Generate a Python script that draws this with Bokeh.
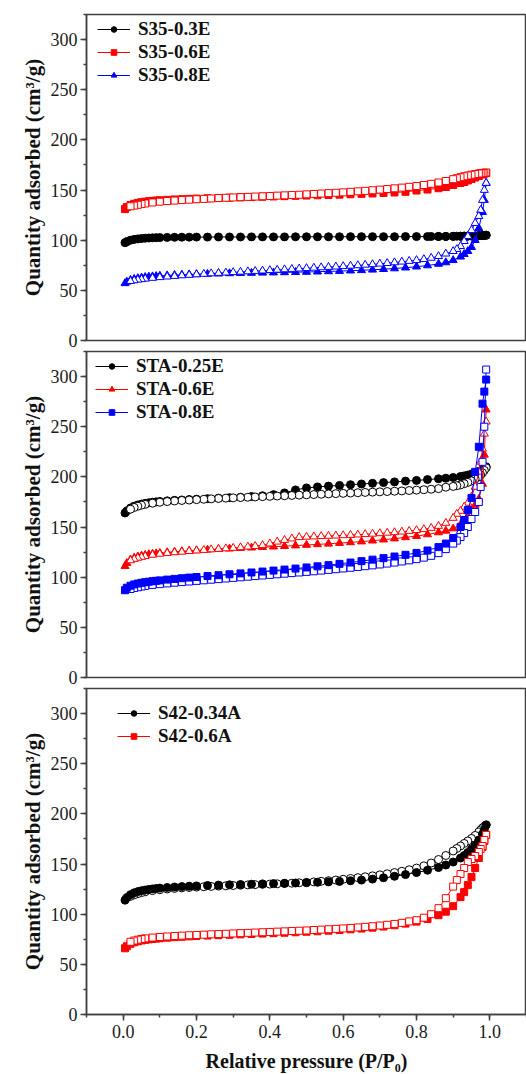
from bokeh.plotting import figure
from bokeh.models import (Range1d, SingleIntervalTicker, Legend, LegendItem,
                          ColumnDataSource, PrintfTickFormatter)
from bokeh.layouts import column
from bokeh.embed import file_html
from bokeh.resources import INLINE

# ---------------- data ----------------
ADS_P = [0.005, 0.01, 0.02, 0.03, 0.04, 0.05, 0.06, 0.07, 0.08, 0.09,
         0.10, 0.12, 0.14, 0.16, 0.18, 0.20, 0.23, 0.26, 0.29, 0.32,
         0.35, 0.38, 0.41, 0.44, 0.47, 0.50, 0.53, 0.56, 0.59, 0.62,
         0.65, 0.68, 0.71, 0.74, 0.77, 0.80, 0.83, 0.86, 0.88, 0.90,
         0.92, 0.93, 0.94, 0.95, 0.96, 0.97, 0.98, 0.985, 0.99]

DES_P = [0.99, 0.985, 0.98, 0.975, 0.97, 0.96, 0.95, 0.94, 0.93, 0.92,
         0.91, 0.90, 0.88, 0.86, 0.84, 0.82, 0.80, 0.78, 0.76, 0.74,
         0.72, 0.70, 0.68, 0.66, 0.64, 0.62, 0.60, 0.58, 0.56, 0.54,
         0.52, 0.50, 0.48, 0.46, 0.44, 0.42, 0.40, 0.38, 0.36, 0.34,
         0.32, 0.30, 0.28, 0.26, 0.24, 0.22, 0.20, 0.18, 0.16, 0.14,
         0.12, 0.10, 0.08, 0.06, 0.05, 0.04, 0.03, 0.02]

# panel 1
S35_03E_ADS = [97.5, 98.5, 100.0, 100.8, 101.3, 101.7, 102.0, 102.2, 102.4, 102.5,
               102.6, 102.8, 102.9, 103.0, 103.0, 103.1, 103.1, 103.2, 103.2, 103.2,
               103.3, 103.3, 103.3, 103.3, 103.4, 103.4, 103.4, 103.4, 103.4, 103.5,
               103.5, 103.5, 103.5, 103.5, 103.6, 103.6, 103.6, 103.7, 103.7, 103.8,
               103.9, 104.0, 104.0, 104.1, 104.2, 104.4, 104.6, 104.8, 105.0]
S35_03E_DES_P = [0.99, 0.98, 0.97, 0.96, 0.95, 0.94, 0.93, 0.92, 0.91, 0.90, 0.88, 0.86, 0.84]
S35_03E_DES = [105.0, 104.8, 104.6, 104.4, 104.3, 104.2, 104.1, 104.0, 104.0, 103.9, 103.8, 103.8, 103.7]

S35_06E_ADS = [131.0, 133.0, 135.0, 136.3, 137.2, 137.9, 138.4, 138.8, 139.2, 139.5,
               139.8, 140.2, 140.6, 140.9, 141.2, 141.5, 141.8, 142.1, 142.4, 142.7,
               143.0, 143.3, 143.6, 143.9, 144.2, 144.5, 144.8, 145.1, 145.4, 145.8,
               146.2, 146.6, 147.1, 147.6, 148.2, 149.5, 150.5, 151.8, 153.0, 155.0,
               157.0, 158.0, 159.5, 161.0, 162.5, 164.0, 165.5, 166.3, 167.0]
S35_06E_DES = [167.5, 167.2, 167.0, 166.8, 166.5, 166.0, 165.3, 164.5, 163.7, 162.8,
               161.8, 160.8, 159.0, 157.5, 156.2, 155.0, 154.0, 153.2, 152.4, 151.7,
               151.0, 150.4, 149.8, 149.2, 148.7, 148.2, 147.7, 147.3, 146.9, 146.5,
               146.1, 145.7, 145.3, 145.0, 144.7, 144.4, 144.1, 143.8, 143.5, 143.2,
               142.9, 142.6, 142.3, 142.0, 141.6, 141.2, 140.8, 140.4, 140.0, 139.5,
               139.0, 138.4, 137.6, 136.6, 136.0, 135.3, 134.5, 133.8]

S35_08E_ADS = [57.0, 58.5, 60.3, 61.3, 62.0, 62.6, 63.1, 63.5, 63.8, 64.1,
               64.4, 64.8, 65.2, 65.5, 65.8, 66.0, 66.3, 66.6, 66.9, 67.1,
               67.3, 67.5, 67.7, 67.9, 68.1, 68.3, 68.6, 68.9, 69.2, 69.6,
               70.0, 70.5, 71.1, 71.8, 72.6, 73.6, 74.8, 76.3, 77.8, 80.0,
               83.5, 86.0, 89.0, 93.0, 100.0, 112.0, 128.0, 140.0, 157.0]
S35_08E_DES = [157.0, 150.0, 140.0, 130.0, 124.0, 117.0, 110.0, 104.0, 99.0, 94.0,
               91.0, 89.0, 86.5, 84.0, 82.3, 81.0, 80.0, 79.2, 78.5, 77.8,
               77.1, 76.5, 75.9, 75.4, 74.9, 74.4, 74.0, 73.6, 73.2, 72.8,
               72.4, 72.0, 71.6, 71.2, 70.8, 70.4, 70.0, 69.6, 69.2, 68.8,
               68.4, 68.0, 67.6, 67.2, 66.8, 66.3, 65.8, 65.3, 64.8, 64.2,
               63.6, 63.0, 62.3, 61.5, 61.0, 60.5, 59.9, 59.2]

# panel 2
STA_025E_ADS = [164.0, 166.0, 169.0, 170.8, 172.0, 172.9, 173.6, 174.2, 174.7, 175.1,
                175.5, 176.1, 176.6, 177.0, 177.4, 177.8, 178.3, 178.8, 179.3, 179.8,
                180.4, 181.2, 182.3, 184.0, 187.0, 189.0, 190.0, 190.8, 191.5, 192.2,
                192.9, 193.6, 194.3, 195.0, 195.8, 196.5, 197.3, 198.1, 198.7, 199.4,
                200.4, 201.0, 201.8, 202.8, 204.0, 205.5, 207.3, 208.6, 210.0]
STA_025E_DES = [209.0, 206.5, 204.0, 202.0, 200.0, 198.0, 196.0, 194.5, 193.2, 192.0,
                191.2, 190.5, 189.7, 188.3, 187.7, 187.2, 186.8, 186.4, 186.0, 185.7,
                185.4, 185.1, 184.8, 184.5, 184.2, 183.9, 183.6, 183.3, 183.0, 182.7,
                182.4, 182.1, 181.8, 181.5, 181.2, 180.9, 180.6, 180.3, 180.0, 179.7,
                179.4, 179.1, 178.8, 178.5, 178.1, 177.7, 177.3, 176.9, 176.5, 176.0,
                175.4, 174.7, 173.8, 172.6, 171.8, 170.8, 169.5, 167.8]

STA_06E_ADS = [111.0, 114.0, 117.5, 119.3, 120.5, 121.4, 122.1, 122.7, 123.2, 123.6,
               124.0, 124.7, 125.3, 125.8, 126.3, 126.7, 127.3, 127.9, 128.4, 128.9,
               129.4, 129.9, 130.4, 130.9, 131.5, 132.1, 132.7, 133.3, 134.0, 134.7,
               135.5, 136.4, 137.4, 138.5, 139.7, 141.0, 142.6, 144.6, 146.2, 148.5,
               152.5, 156.0, 161.0, 166.0, 172.0, 178.0, 193.0, 222.0, 267.0]
STA_06E_DES = [255.0, 243.0, 228.0, 215.0, 205.0, 190.0, 180.0, 174.0, 170.0, 166.0,
               163.0, 159.0, 154.0, 151.0, 149.0, 147.8, 146.8, 146.0, 145.3, 144.7,
               144.2, 143.7, 143.2, 142.8, 142.4, 142.0, 141.7, 141.4, 141.1, 140.8,
               140.5, 140.2, 139.8, 138.5, 137.0, 135.3, 133.5, 131.8, 131.0, 130.3,
               129.7, 129.1, 128.6, 128.1, 127.6, 127.0, 126.5, 125.9, 125.3, 124.7,
               124.0, 123.2, 122.2, 120.9, 120.1, 119.2, 118.1, 116.7]

STA_08E_ADS = [87.0, 89.5, 91.5, 92.8, 93.7, 94.4, 95.0, 95.5, 96.0, 96.4,
               96.8, 97.6, 98.3, 99.0, 99.6, 100.2, 101.1, 102.0, 102.9, 103.8,
               104.7, 105.6, 106.6, 107.6, 108.6, 109.7, 110.8, 112.0, 113.3, 114.6,
               116.0, 117.5, 119.0, 120.6, 122.3, 124.2, 126.6, 130.0, 133.5, 139.0,
               150.0, 157.0, 167.0, 179.0, 205.0, 230.0, 273.0, 285.0, 297.0]
STA_08E_DES = [307.0, 250.0, 215.0, 190.0, 175.0, 165.0, 158.0, 150.0, 144.0, 140.0,
               136.5, 133.5, 128.0, 124.0, 121.3, 119.5, 118.0, 116.8, 115.7, 114.6,
               113.6, 112.7, 111.8, 111.0, 110.2, 109.4, 108.7, 108.0, 107.3, 106.6,
               105.9, 105.3, 104.7, 104.1, 103.5, 102.9, 102.3, 101.7, 101.1, 100.5,
               99.9, 99.3, 98.7, 98.1, 97.5, 96.9, 96.3, 95.7, 95.1, 94.5,
               93.8, 93.1, 92.3, 91.3, 90.7, 90.0, 89.2, 88.2]

# panel 3
S42_034A_ADS = [114.0, 116.5, 119.5, 121.3, 122.5, 123.4, 124.1, 124.7, 125.2, 125.6,
                126.0, 126.6, 127.1, 127.5, 127.9, 128.2, 128.6, 129.0, 129.3, 129.6,
                129.9, 130.2, 130.5, 130.8, 131.1, 131.4, 131.8, 132.2, 132.7, 133.3,
                134.0, 135.0, 136.3, 137.8, 139.5, 141.5, 143.8, 146.5, 149.0, 152.0,
                156.0, 158.5, 161.5, 165.0, 169.0, 174.0, 180.0, 184.5, 189.0]
S42_034A_DES = [189.0, 187.5, 186.0, 184.0, 182.0, 178.5, 175.5, 173.0, 170.5, 168.0,
                165.5, 163.0, 158.5, 154.5, 151.0, 148.2, 146.0, 144.3, 142.8, 141.5,
                140.3, 139.2, 138.2, 137.3, 136.4, 135.6, 134.8, 134.1, 133.4, 132.8,
                132.2, 131.7, 131.3, 130.9, 130.6, 130.3, 130.0, 129.8, 129.5, 129.2,
                128.9, 128.6, 128.3, 128.0, 127.7, 127.4, 127.0, 126.6, 126.2, 125.7,
                125.1, 124.4, 123.5, 122.3, 121.5, 120.5, 119.3, 117.8]

S42_06A_ADS = [66.0, 68.0, 70.5, 72.0, 73.0, 73.8, 74.4, 74.9, 75.3, 75.7,
               76.0, 76.6, 77.1, 77.5, 77.9, 78.2, 78.7, 79.1, 79.5, 79.9,
               80.3, 80.7, 81.1, 81.5, 82.0, 82.5, 83.0, 83.6, 84.2, 84.9,
               85.7, 86.6, 87.7, 89.0, 90.6, 92.6, 95.3, 99.0, 102.5, 108.0,
               117.0, 122.0, 129.0, 137.0, 146.0, 156.0, 167.0, 173.0, 179.0]
S42_06A_DES = [179.0, 174.0, 168.0, 165.0, 162.0, 158.0, 155.0, 152.0, 146.0, 140.0,
               134.0, 127.5, 116.0, 106.0, 100.0, 96.5, 94.0, 92.8, 91.4, 90.3,
               89.4, 88.7, 88.0, 87.4, 86.8, 86.3, 85.8, 85.4, 85.0, 84.6,
               84.2, 83.8, 83.5, 83.2, 82.9, 82.6, 82.3, 82.0, 81.7, 81.4,
               81.1, 80.8, 80.5, 80.2, 79.9, 79.6, 79.3, 79.0, 78.6, 78.2,
               77.8, 77.3, 76.7, 75.9, 75.3, 74.6, 73.7, 72.5]

X_TICK_INTERVAL = 0.2
Y_TICK_INTERVAL = 50
X_LABEL = "Relative pressure (P/P\u2080)"
Y_LABEL = "Quantity adsorbed (cm³/g)"

FONT = "Liberation Serif"
AXIS_COLOR = "#404040"


def src(xs, ys):
    n = min(len(xs), len(ys))
    return ColumnDataSource(dict(x=list(xs[:n]), y=list(ys[:n])))


def make_panel(series, legend_xy, show_x, b_top, b_bottom, height):
    p = figure(width=526, height=height, x_range=Range1d(-0.1, 1.1), y_range=Range1d(0, 325),
               output_backend="svg", toolbar_location=None,
               min_border_left=86, min_border_right=0,
               min_border_top=b_top, min_border_bottom=b_bottom,
               background_fill_color="white", border_fill_color="white")
    p.outline_line_color = AXIS_COLOR
    p.outline_line_width = 1.5
    p.xgrid.visible = False
    p.ygrid.visible = False

    p.xaxis.ticker = SingleIntervalTicker(interval=X_TICK_INTERVAL, num_minor_ticks=2)
    p.yaxis.ticker = SingleIntervalTicker(interval=Y_TICK_INTERVAL, num_minor_ticks=2)
    p.xaxis.formatter = PrintfTickFormatter(format="%.1f")
    for ax in (p.xaxis, p.yaxis):
        ax.axis_line_color = AXIS_COLOR
        ax.axis_line_width = 1.5
        ax.major_tick_line_color = AXIS_COLOR
        ax.minor_tick_line_color = AXIS_COLOR
        ax.major_tick_line_width = 1.5
        ax.minor_tick_line_width = 1.5
        ax.major_tick_in = 0
        ax.major_tick_out = 6
        ax.minor_tick_in = 0
        ax.minor_tick_out = 3
        ax.major_label_text_font = FONT
        ax.major_label_text_font_size = "18px"
        ax.major_label_text_color = "#1a1a1a"
        ax.axis_label_text_font = FONT
        ax.axis_label_text_font_style = "bold"
        ax.axis_label_text_color = "#111111"
    p.yaxis.major_label_standoff = 3
    p.yaxis.axis_label = Y_LABEL
    p.yaxis.axis_label_text_font_size = "21px"
    p.yaxis.axis_label_standoff = 3
    if show_x:
        p.xaxis.axis_label = X_LABEL
        p.xaxis.axis_label_text_font_size = "20px"
        p.xaxis.major_label_standoff = 4
        p.xaxis.axis_label_standoff = 9
    else:
        p.xaxis.visible = False

    items = []
    for s in series:
        label, color, marker, size, ads_p, ads_y, des_p, des_y, des_filled, open_on_top = s
        l1 = p.line("x", "y", source=src(ads_p, ads_y), line_color=color, line_width=1)
        p.line("x", "y", source=src(des_p, des_y), line_color=color, line_width=1)

        def filled():
            return p.scatter("x", "y", source=src(ads_p, ads_y), marker=marker, size=size,
                             fill_color=color, line_color=color, line_width=1)

        def opened():
            return p.scatter("x", "y", source=src(des_p, des_y), marker=marker, size=size,
                             fill_color=color if des_filled else "white",
                             line_color=color, line_width=1)
        if open_on_top:
            f = filled()
            opened()
        else:
            opened()
            f = filled()
        items.append(LegendItem(label=label, renderers=[l1, f]))

    leg = Legend(items=items, location=legend_xy, margin=0, padding=5, spacing=1,
                 glyph_width=33, glyph_height=14, label_height=14, label_standoff=8,
                 border_line_alpha=0, background_fill_alpha=0,
                 label_text_font=FONT, label_text_font_style="bold",
                 label_text_font_size="19px", label_text_color="#111111")
    p.add_layout(leg)
    return p


p1 = make_panel([
    ("S35-0.3E", "black", "circle", 8, ADS_P, S35_03E_ADS, S35_03E_DES_P, S35_03E_DES, True, True),
    ("S35-0.6E", "red", "square", 7, ADS_P, S35_06E_ADS, DES_P, S35_06E_DES, False, True),
    ("S35-0.8E", "blue", "triangle", 8, ADS_P, S35_08E_ADS, DES_P, S35_08E_DES, False, True),
], (6, 249), False, 14, 10, 350)

p2 = make_panel([
    ("STA-0.25E", "black", "circle", 8, ADS_P, STA_025E_ADS, DES_P, STA_025E_DES, False, True),
    ("STA-0.6E", "red", "triangle", 8, ADS_P, STA_06E_ADS, DES_P, STA_06E_DES, False, True),
    ("STA-0.8E", "blue", "square", 7, ADS_P, STA_08E_ADS, DES_P, STA_08E_DES, False, False),
], (4, 249), False, 1, 10, 337)

p3 = make_panel([
    ("S42-0.34A", "black", "circle", 8, ADS_P, S42_034A_ADS, DES_P, S42_034A_DES, False, False),
    ("S42-0.6A", "red", "square", 7, ADS_P, S42_06A_ADS, DES_P, S42_06A_DES, False, True),
], (26, 262), True, 1, 60, 387)

layout = column(p1, p2, p3, spacing=0)
open("out.html", "w").write(file_html(layout, INLINE))
